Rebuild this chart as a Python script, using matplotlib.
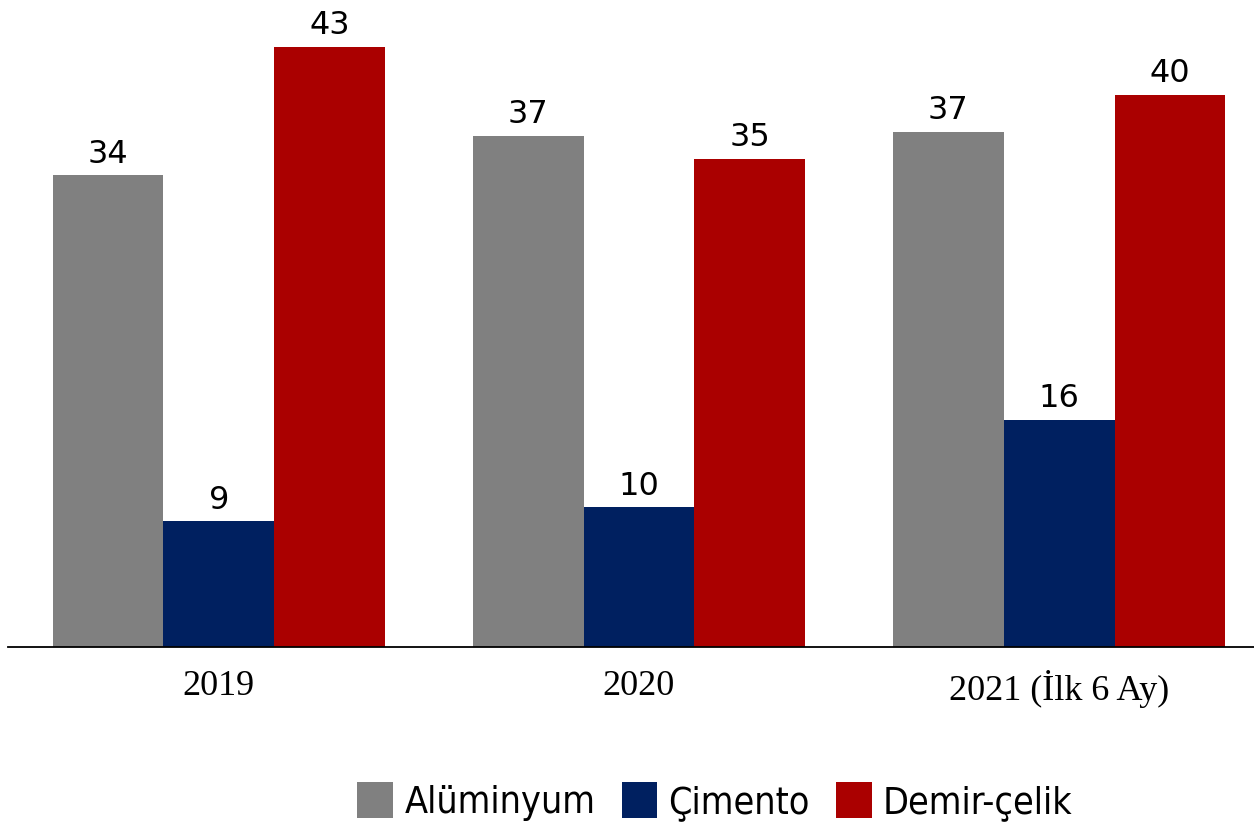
import matplotlib
matplotlib.use("Agg")
import matplotlib.pyplot as plt
from matplotlib import font_manager
import numpy as np

categories = ["2019", "2020", "2021 (İlk 6 Ay)"]
series_names = ["Alüminyum", "Çimento", "Demir-çelik"]
aluminyum = [33.8, 36.6, 36.9]
cimento = [9.0, 10.0, 16.3]
demir_celik = [43.0, 35.0, 39.6]
colors = ["#808080", "#002060", "#AA0000"]

serif_fp = font_manager.FontProperties(family=["Liberation Serif", "Times New Roman", "DejaVu Serif"],
                                       size=26, stretch="normal")

fig = plt.figure(figsize=(12.54, 8.29), dpi=100)
ax = fig.add_axes([8 / 1254, 1 - 648 / 829, 1 - 8 / 1254, 648 / 829])

x = np.arange(len(categories))
w = 0.264
for i, (vals, name, c) in enumerate(zip([aluminyum, cimento, demir_celik], series_names, colors)):
    bars = ax.bar(x + (i - 1) * w, vals, width=w, color=c, label=name, linewidth=0)
    for b, v in zip(bars, vals):
        ax.annotate(f"{round(v):d}", (b.get_x() + b.get_width() / 2, b.get_height()),
                    xytext=(0, 5), textcoords="offset points", ha="center", va="bottom",
                    fontsize=23, family="DejaVu Sans")

ax.set_xlim(-0.502, 2.464)
ax.set_ylim(0, 46.45)
for s in ["top", "right", "left"]:
    ax.spines[s].set_visible(False)
ax.spines["bottom"].set_linewidth(1.3)
ax.set_yticks([])
ax.set_xticks(x)
ax.set_xticklabels(categories)
for t in ax.get_xticklabels():
    t.set_fontproperties(serif_fp)
ax.tick_params(axis="x", length=0, pad=16)

leg = fig.legend(loc="center", bbox_to_anchor=(715 / 1254, 1 - 802 / 829), ncol=3, frameon=False,
                 prop={"family": "DejaVu Sans", "stretch": "condensed", "size": 27},
                 handlelength=0.95, handleheight=1.1, handletextpad=0.3, columnspacing=0.7)

fig.savefig("out.png", dpi=100)
